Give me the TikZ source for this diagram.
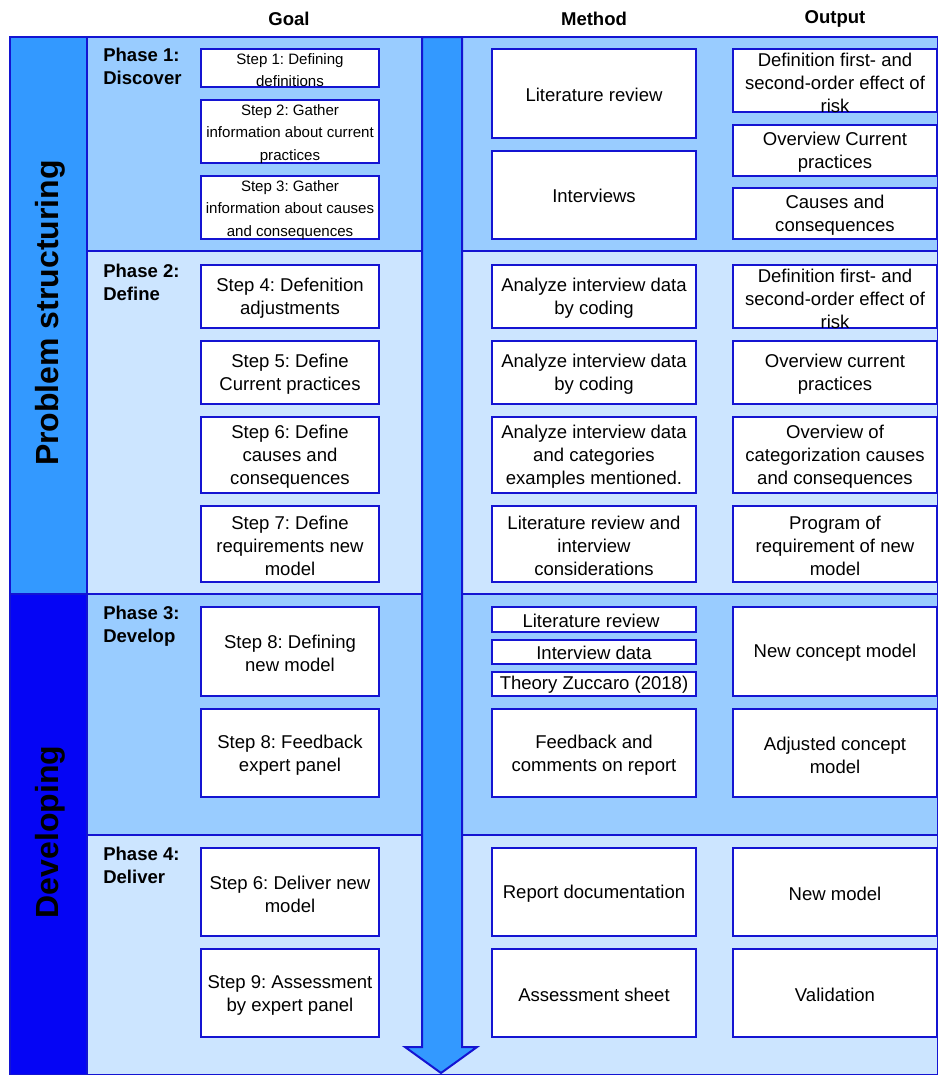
\documentclass[tikz,border=0pt]{standalone}
\usepackage{fontspec}
\setmainfont{Liberation Sans}
\usepackage{tikz}
\definecolor{phaseA}{RGB}{153,204,255}
\definecolor{phaseB}{RGB}{204,229,255}
\definecolor{bandA}{RGB}{51,153,255}
\definecolor{bandB}{RGB}{5,5,245}
\definecolor{edge}{RGB}{20,20,210}
\frenchspacing

\begin{document}
\begin{tikzpicture}[x=0.75pt,y=0.75pt,yscale=-1,xscale=1,
	box/.style={draw=edge,fill=white,line width=0.8pt},
	panel/.style={draw=edge,line width=0.8pt},
	txt/.style={align=center,inner sep=0.75pt,font=\fontsize{13.9}{17.25}\selectfont},
	small/.style={align=center,inner sep=0.75pt,font=\fontsize{11.3}{16.9}\selectfont},
	phase/.style={anchor=north west,align=left,inner sep=0.75pt,font=\bfseries\fontsize{13.9}{17.25}\selectfont},
	head/.style={inner sep=0.75pt,font=\bfseries\fontsize{13.9}{17}\selectfont},
	band/.style={inner sep=0.75pt,rotate=90,font=\bfseries\fontsize{24}{28}\selectfont}]
	\useasboundingbox (0,0) rectangle (938,1075);
	
	%Shape: Rectangle [bands]
	\draw [panel,fill=bandA] (10,37) rectangle (87,594) ;
	\draw [panel,fill=bandB] (10,594) rectangle (87,1075) ;
	%Shape: Rectangle [phases]
	\draw [panel,fill=phaseA] (87,37) rectangle (938,251) ;
	\draw [panel,fill=phaseB] (87,251) rectangle (938,594) ;
	\draw [panel,fill=phaseA] (87,594) rectangle (938,835) ;
	\draw [panel,fill=phaseB] (87,835) rectangle (938,1075) ;
	%Shape: Arrow
	\draw [draw=edge,fill=bandA,line width=1.5pt,line join=miter] (422,37) -- (462,37) -- (462,1047) -- (477,1047) -- (441,1073) -- (405,1047) -- (422,1047) -- cycle ;
	
	% Text Node
	\draw (289,19) node [head] (hgoal) {Goal};
	% Text Node
	\draw (594,19) node [head] (hmethod) {Method};
	% Text Node
	\draw (835,19) node [head] (houtput) {Output};
	% Text Node
	\draw (50,313) node [band] (problem) {Problem structuring};
	% Text Node
	\draw (50,832) node [band] (developing) {Developing};
	% Text Node
	\draw (102,47) node [phase] (ph1) {Phase 1:\\Discover};
	% Text Node
	\draw (102,263) node [phase] (ph2) {Phase 2:\\Define};
	% Text Node
	\draw (102,605) node [phase] (ph3) {Phase 3:\\Develop};
	% Text Node
	\draw (102,846) node [phase] (ph4) {Phase 4:\\Deliver};
	
	%Phase 1
	\draw [box] (201,49) rectangle (379,87) ;
	\draw (290,70) node [small] (g1) {Step 1: Defining\\definitions};
	\draw [box] (201,100) rectangle (379,163) ;
	\draw (290,134) node [small] (g2) {Step 2: Gather\\information about current\\practices};
	\draw [box] (201,176) rectangle (379,239) ;
	\draw (290,210) node [small] (g3) {Step 3: Gather\\information about causes\\and consequences};
	\draw [box] (492,49) rectangle (696,138) ;
	\draw (594,95) node [txt] (m1) {Literature review};
	\draw [box] (492,151) rectangle (696,239) ;
	\draw (594,196) node [txt] (m2) {Interviews};
	\draw [box] (733,49) rectangle (937,112) ;
	\draw (835,83) node [txt] (o1) {Definition first- and\\second-order effect of\\risk};
	\draw [box] (733,125) rectangle (937,176) ;
	\draw (835,152) node [txt] (o2) {Overview Current\\practices};
	\draw [box] (733,188) rectangle (937,239) ;
	\draw (835,215) node [txt] (o3) {Causes and\\consequences};
	
	%Phase 2
	\draw [box] (201,265) rectangle (379,328) ;
	\draw (290,298) node [txt] (g4) {Step 4: Defenition\\adjustments};
	\draw [box] (201,341) rectangle (379,404) ;
	\draw (290,374) node [txt] (g5) {Step 5: Define\\Current practices};
	\draw [box] (201,417) rectangle (379,493) ;
	\draw (290,457) node [txt] (g6) {Step 6: Define\\causes and\\consequences};
	\draw [box] (201,506) rectangle (379,582) ;
	\draw (290,546) node [txt] (g7) {Step 7: Define\\requirements new\\model};
	\draw [box] (492,265) rectangle (696,328) ;
	\draw (594,298) node [txt] (m4) {Analyze interview data\\by coding};
	\draw [box] (492,341) rectangle (696,404) ;
	\draw (594,374) node [txt] (m5) {Analyze interview data\\by coding};
	\draw [box] (492,417) rectangle (696,493) ;
	\draw (594,457) node [txt] (m6) {Analyze interview data\\and categories\\examples mentioned.};
	\draw [box] (492,506) rectangle (696,582) ;
	\draw (594,546) node [txt] (m7) {Literature review and\\interview\\considerations};
	\draw [box] (733,265) rectangle (937,328) ;
	\draw (835,299) node [txt] (o4) {Definition first- and\\second-order effect of\\risk};
	\draw [box] (733,341) rectangle (937,404) ;
	\draw (835,374) node [txt] (o5) {Overview current\\practices};
	\draw [box] (733,417) rectangle (937,493) ;
	\draw (835,457) node [txt] (o6) {Overview of\\categorization causes\\and consequences};
	\draw [box] (733,506) rectangle (937,582) ;
	\draw (835,546) node [txt] (o7) {Program of\\requirement of new\\model};
	
	%Phase 3
	\draw [box] (201,607) rectangle (379,696) ;
	\draw (290,653) node [txt] (g8) {Step 8: Defining\\new model};
	\draw [box] (201,709) rectangle (379,797) ;
	\draw (290,755) node [txt] (g9) {Step 8: Feedback\\expert panel};
	\draw [box] (492,607) rectangle (696,632) ;
	\draw (591,621) node [txt] (m8a) {Literature review};
	\draw [box] (492,640) rectangle (696,664) ;
	\draw (594,653) node [txt] (m8b) {Interview data};
	\draw [box] (492,672) rectangle (696,696) ;
	\draw (594,685) node [txt] (m8c) {Theory Zuccaro (2018)};
	\draw [box] (492,709) rectangle (696,797) ;
	\draw (594,755) node [txt] (m9) {Feedback and\\comments on report};
	\draw [box] (733,607) rectangle (937,696) ;
	\draw (835,653) node [txt] (o8) {New concept model};
	\draw [box] (733,709) rectangle (937,797) ;
	\draw (835,755) node [txt] (o9) {Adjusted concept\\model};
	
	%Phase 4
	\draw [box] (201,848) rectangle (379,936) ;
	\draw (290,894) node [txt] (g10) {Step 6: Deliver new\\model};
	\draw [box] (201,949) rectangle (379,1037) ;
	\draw (290,995) node [txt] (g11) {Step 9: Assessment\\by expert panel};
	\draw [box] (492,848) rectangle (696,936) ;
	\draw (594,894) node [txt] (m10) {Report documentation};
	\draw [box] (492,949) rectangle (696,1037) ;
	\draw (594,995) node [txt] (m11) {Assessment sheet};
	\draw [box] (733,848) rectangle (937,936) ;
	\draw (835,894) node [txt] (o10) {New model};
	\draw [box] (733,949) rectangle (937,1037) ;
	\draw (835,995) node [txt] (o11) {Validation};
	
\end{tikzpicture}
\end{document}
